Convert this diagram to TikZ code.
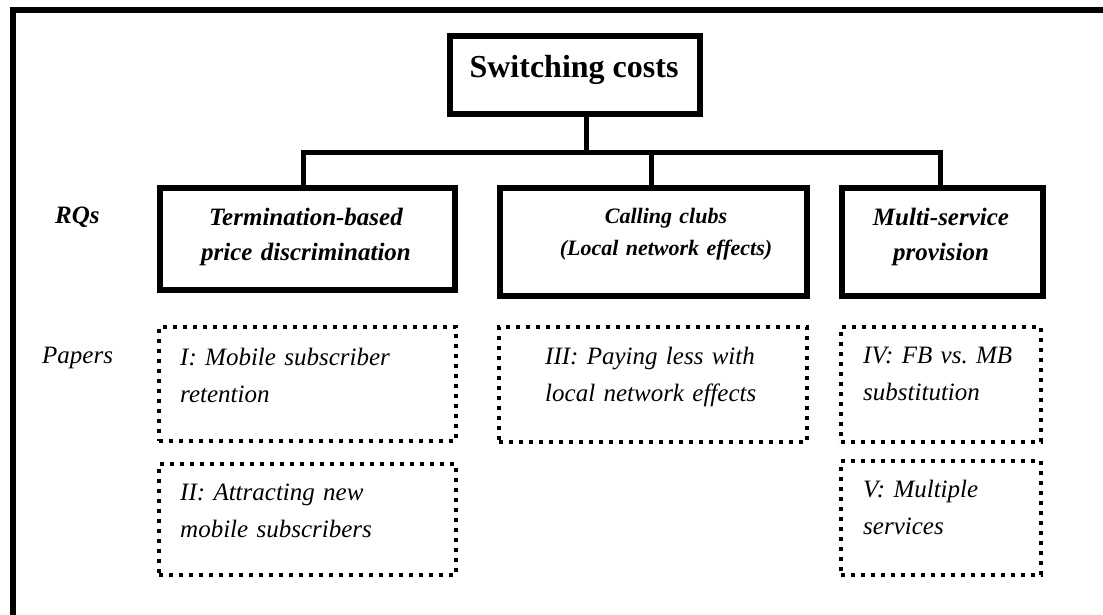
\documentclass[tikz,border=0pt]{standalone}
\usepackage{fontspec}
\setmainfont{Liberation Serif}
\frenchspacing
\begin{document}
\begin{tikzpicture}[x=1pt,y=-1pt,
  solidbox/.style={draw, line width=6pt, inner sep=0pt},
  dotbox/.style={draw, line width=4.5pt, dash pattern=on 4pt off 6pt, inner sep=0pt},
  conn/.style={line width=5pt, line join=miter},
  frameline/.style={line width=6pt},
  ctxt/.style={inner sep=0pt, anchor=base, align=center},
  ltxt/.style={inner sep=0pt, anchor=base west, align=left},
  rqfont/.style={font=\fontsize{25}{35}\selectfont\bfseries\itshape},
  ppfont/.style={font=\fontsize{25}{37}\selectfont\itshape}]
\useasboundingbox (0,0) rectangle (1103,614);
\clip (0,0) rectangle (1103,614);
\fill[white] (0,0) rectangle (1103,614);
% frame (only top and left edges visible)
\draw[frameline] (1110,10) -- (13,10) -- (13,620);
% top node
\node[solidbox, minimum width=250pt, minimum height=78pt] (sc) at (575,75) {};
\node[inner sep=0pt, anchor=base, font=\fontsize{32}{38}\selectfont\bfseries] (sct) at (574,77) {Switching costs};
% RQ boxes
\node[solidbox, minimum width=295pt, minimum height=102pt] (t) at (307,238.5) {};
\node[solidbox, minimum width=307pt, minimum height=108pt] (c) at (653,241.5) {};
\node[solidbox, minimum width=201pt, minimum height=108pt] (m) at (942,241.5) {};
\node[ctxt, rqfont, text width=300pt] (tt) at (306,225) {Termination-based\\price discrimination};
\node[ctxt, font=\fontsize{22}{32}\selectfont\bfseries\itshape, text width=300pt] (ct) at (666,223) {Calling clubs\\(Local network effects)};
\node[ctxt, rqfont, text width=200pt] (mt) at (941,225) {Multi-service\\provision};
% row labels
\node[ltxt, rqfont] (rq) at (55,223) {RQs};
\node[ltxt, ppfont] (pp) at (42,363) {Papers};
% connectors
\coordinate (bar) at (586,152);
\draw[conn] (bar |- sc.south) -- (bar);
\draw[conn] ([xshift=-4pt]t.north) |- ([xshift=-2pt]m.north |- bar) -- ([xshift=-2pt]m.north);
\draw[conn] ([xshift=-2pt]c.north) -- ([xshift=-2pt]c.north |- bar);
% paper boxes
\node[dotbox, minimum width=297pt, minimum height=114pt] (p1) at (307.5,384) {};
\node[dotbox, minimum width=297pt, minimum height=111pt] (p2) at (307.5,519.5) {};
\node[dotbox, minimum width=308pt, minimum height=115pt] (p3) at (653,384.5) {};
\node[dotbox, minimum width=200pt, minimum height=115pt] (p4) at (941,384.5) {};
\node[dotbox, minimum width=200pt, minimum height=114pt] (p5) at (941,518) {};
\node[ltxt, ppfont, text width=270pt] (p1t) at (180,365) {I: Mobile subscriber\\retention};
\node[ltxt, ppfont, text width=270pt] (p2t) at (180,500) {II: Attracting new\\mobile subscribers};
\node[ltxt, ppfont, text width=260pt] (p3t) at (545,364) {III: Paying less with\\local network effects};
\node[ltxt, ppfont, text width=170pt] (p4t) at (863,363) {IV: FB vs. MB\\substitution};
\node[ltxt, ppfont, text width=170pt] (p5t) at (863,497) {V: Multiple\\services};
\end{tikzpicture}
\end{document}
